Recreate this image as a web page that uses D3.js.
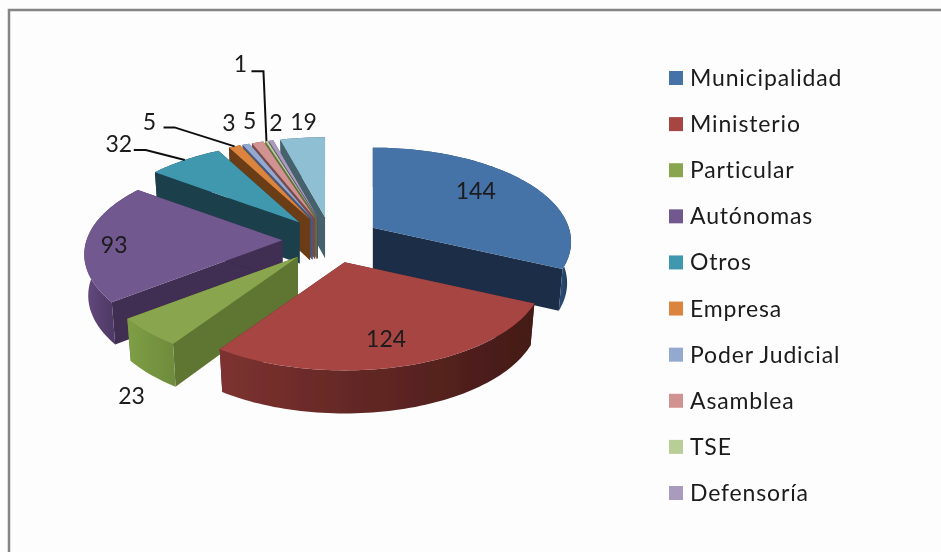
<!DOCTYPE html>
<html><head><meta charset="utf-8">
<style>html,body{margin:0;padding:0;background:#fdfdfd}svg{display:block}text{font-family:Lato,"Open Sans",sans-serif;fill:#1a1a1a}</style>
<script src="https://cdnjs.cloudflare.com/ajax/libs/d3/7.8.5/d3.min.js"></script>
</head><body><div id="chart"></div>
<script>
const categories=["Municipalidad","Ministerio","Particular","Autónomas","Otros","Empresa","Poder Judicial","Asamblea","TSE","Defensoría","Otras"];
const values=[144,124,23,93,32,5,3,5,1,2,19];
const legendCount=10;
const topColors=["#4572a7","#a64543","#89a54e","#71588f","#4198af","#db843d","#93a9cf","#d19392","#b9cd96","#a99bbd","#8ebfd3"];
const wallColors=["#1b2e47","#6d2523","#5f7433","#3f2d52","#1b3f4b","#6a3c18","#48587a","#7a4a48","#5d7040","#564a70","#44626c"];
const outerLeft=["#2a4a70","#7d3230","#7e9e45","#64497f","#1b3f4b","#6a3c18","#48587a","#7a4a48","#5d7040","#564a70","#44626c"];
const outerRight=["#1b2e47","#431a17","#6f8c3c","#4f3a66","#1b3f4b","#6a3c18","#48587a","#7a4a48","#5d7040","#564a70","#44626c"];
const labelOffsets=[[-50,8],[-20,-28],[-16,63],[28,3],[-66,-17],[-85,-25],[-17,-22],[-8,-22],[-26,-78],[5,-19],[1,-17]];
const leaderElbows={4:[[-39,-10],[-51,-10]],5:[[-60,-19],[-71,-19]],8:[[-3,-70],[-15,-70]]};

const W=941,H=552;
const cx=331.5,cy=240,Rx=196,Ry=92,persp=0.15,depth=41,explode=0.25,dropShrink=0.98;
const pie=d3.pie().sort(null).value(d=>d)(values);
function P(a,r,m,drop){
  const ux=Math.sin(a)*r, uy=-Math.cos(a)*r;
  const s=1/(1-persp*uy);
  const x=cx+Rx*(ux*s*(drop?dropShrink:1)+explode*Math.sin(m));
  const y=cy+Ry*(uy*s-explode*Math.cos(m));
  return [x,y+(drop?depth*Math.pow(s,0.3):0)];
}
const svg=d3.select("#chart").append("svg").attr("width",W).attr("height",H);
const defs=svg.append("defs");
defs.append("filter").attr("id","soft").attr("x",0).attr("y",0).attr("width",1).attr("height",1)
  .append("feGaussianBlur").attr("stdDeviation",0.55);
const root=svg.append("g").attr("filter","url(#soft)");
root.append("rect").attr("width",W).attr("height",H).attr("fill","#fdfdfd");
root.append("path").attr("d",`M9,${H}V10H${W}`).attr("fill","none").attr("stroke","#858585").attr("stroke-width",2.5);

const line=d3.line();
const slices=pie.map((d,i)=>({d,i,m:(d.startAngle+d.endAngle)/2}));
const draw=slices.slice().sort((a,b)=>Math.cos(b.m)-Math.cos(a.m));
function arcAngles(d){
  const n=Math.max(3,Math.ceil((d.endAngle-d.startAngle)*40));
  return d3.range(n+1).map(k=>d.startAngle+(d.endAngle-d.startAngle)*k/n);
}
const g=root.append("g");
draw.forEach(({d,i,m})=>{
  const angs=arcAngles(d);
  const pts=angs.map(a=>P(a,1,m,false));
  const low=angs.map(a=>P(a,1,m,true));
  const front=angs.filter(a=>Math.cos(a)<0).map(a=>P(a,1,m,false)[0]);
  const xs=front.length>1?front:pts.map(p=>p[0]);
  const grad=defs.append("linearGradient").attr("id","w"+i).attr("gradientUnits","userSpaceOnUse");
  grad.attr("x1",d3.min(xs)).attr("x2",d3.max(xs)).attr("y1",0).attr("y2",0);
  grad.append("stop").attr("offset",0).attr("stop-color",outerLeft[i]);
  grad.append("stop").attr("offset",1).attr("stop-color",outerRight[i]);
  const o=P(0,0,m,false),od=P(0,0,m,true);
  const a=pts[0],b=pts[pts.length-1],ad=low[0],bd=low[low.length-1];
  g.append("path").attr("d",line([o,a,ad,od])+"Z").attr("fill",wallColors[i]);
  g.append("path").attr("d",line([o,b,bd,od])+"Z").attr("fill",wallColors[i]);
  g.append("path").attr("d",line(pts.concat(low.slice().reverse()))+"Z").attr("fill",`url(#w${i})`);
  g.append("path").attr("d",line([o].concat(pts))+"Z").attr("fill",topColors[i]);
});

slices.forEach(({i,m})=>{
  const p=P(m,1,m,false);
  const off=labelOffsets[i];
  if(leaderElbows[i]){
    const pts=[p].concat(leaderElbows[i].map(e=>[p[0]+e[0],p[1]+e[1]]));
    root.append("path").attr("d",line(pts)).attr("fill","none").attr("stroke","#111").attr("stroke-width",2);
  }
  root.append("text").attr("x",p[0]+off[0]).attr("y",p[1]+off[1]).attr("text-anchor","middle").attr("dominant-baseline","central").attr("font-size",23).text(values[i]);
});

const yL=d3.scalePoint().domain(d3.range(legendCount)).range([78,493]);
categories.slice(0,legendCount).forEach((c,i)=>{
  root.append("rect").attr("x",669).attr("y",yL(i)-7).attr("width",14).attr("height",14).attr("fill",topColors[i]);
  root.append("text").attr("x",690).attr("y",yL(i)-1).attr("dominant-baseline","central").attr("font-size",23).attr("letter-spacing",0.85).text(c);
});
</script></body></html>
